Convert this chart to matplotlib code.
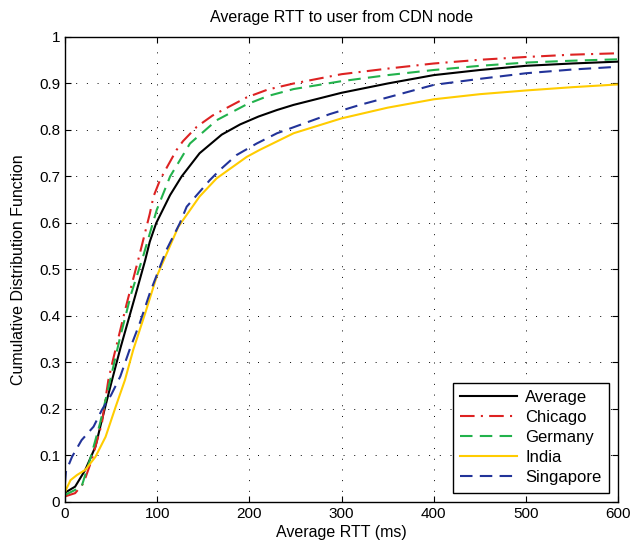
import matplotlib.pyplot as plt

plt.rcParams['font.family'] = ['Liberation Sans', 'DejaVu Sans']

# RTT (ms) vs CDF
avg_x = [0, 11, 22, 33, 40, 51, 60, 70, 78, 87, 92, 99, 114, 126.5, 146, 170, 190, 210, 230, 248, 300, 350, 400, 450, 500, 550, 600]
avg_y = [0.02, 0.033, 0.069, 0.119, 0.176, 0.262, 0.33, 0.40, 0.456, 0.52, 0.56, 0.60, 0.66, 0.70, 0.75, 0.790, 0.812, 0.829, 0.843, 0.854, 0.88, 0.90, 0.918, 0.929, 0.938, 0.943, 0.947]

chi_x = [0, 11, 20, 29, 40, 47, 52, 67, 80, 92, 96, 103, 107, 121, 128, 143, 160, 175, 197, 220, 248, 300, 350, 400, 450, 500, 550, 600]
chi_y = [0.012, 0.019, 0.04, 0.09, 0.169, 0.262, 0.305, 0.427, 0.525, 0.62, 0.657, 0.692, 0.707, 0.757, 0.776, 0.807, 0.831, 0.847, 0.87, 0.887, 0.90, 0.92, 0.932, 0.943, 0.951, 0.957, 0.962, 0.965]

ger_x = [0, 18, 27, 38, 49, 60, 72, 85, 99.5, 114, 135.6, 164.5, 197, 220, 248, 300, 350, 400, 450, 500, 550, 600]
ger_y = [0.015, 0.033, 0.09, 0.169, 0.262, 0.356, 0.449, 0.53, 0.628, 0.70, 0.771, 0.821, 0.855, 0.873, 0.888, 0.905, 0.918, 0.929, 0.938, 0.945, 0.949, 0.952]

ind_x = [0, 1, 6, 13, 22, 33, 44, 55, 65, 74, 87, 99.5, 112, 123, 146, 164.5, 197, 211, 248, 300, 350, 400, 450, 500, 550, 600]
ind_y = [0.02, 0.026, 0.047, 0.058, 0.069, 0.097, 0.14, 0.205, 0.262, 0.327, 0.406, 0.485, 0.542, 0.592, 0.657, 0.696, 0.742, 0.757, 0.793, 0.825, 0.848, 0.866, 0.877, 0.885, 0.892, 0.898]

sgp_x = [0, 1, 7.6, 18, 31, 40, 50, 60, 70, 81, 92, 110, 124.7, 132, 157, 168, 186, 208, 230, 287, 320, 350, 400, 450, 500, 550, 600]
sgp_y = [0.04, 0.065, 0.097, 0.133, 0.162, 0.198, 0.23, 0.27, 0.327, 0.384, 0.449, 0.542, 0.60, 0.635, 0.692, 0.714, 0.746, 0.771, 0.793, 0.834, 0.854, 0.87, 0.897, 0.91, 0.922, 0.93, 0.936]

fig = plt.figure(figsize=(6.34, 5.52), dpi=100)
ax = fig.add_axes([0.1025, 0.0906, 0.8725, 0.8424])

ax.plot(avg_x, avg_y, color='black', lw=1.5, label='Average')
ax.plot(chi_x, chi_y, color='#dd2222', lw=1.5, ls=(0, (7, 3, 1, 3)), label='Chicago')
ax.plot(ger_x, ger_y, color='#22b24c', lw=1.5, ls=(0, (6, 3.5)), label='Germany')
ax.plot(ind_x, ind_y, color='#ffcc00', lw=1.5, label='India')
ax.plot(sgp_x, sgp_y, color='#223399', lw=1.5, ls=(0, (6, 3.5)), label='Singapore')

ax.set_xlim(0, 600)
ax.set_ylim(0, 1)
ax.set_xticks(range(0, 601, 100))
ax.set_yticks([i / 10 for i in range(11)])
ax.set_yticklabels(['0', '0.1', '0.2', '0.3', '0.4', '0.5', '0.6', '0.7', '0.8', '0.9', '1'])
ax.tick_params(direction='in', top=True, right=True, labelsize=11, length=4)
ax.grid(True, color='black', ls=(0, (1, 10)), lw=0.7)
for s in ax.spines.values():
    s.set_linewidth(1.0)

ax.set_title('Average RTT to user from CDN node', fontsize=11.5, pad=11)
ax.set_xlabel('Average RTT (ms)', fontsize=11.5, labelpad=3)
ax.set_ylabel('Cumulative Distribution Function', fontsize=11.5, labelpad=9)

leg = ax.legend(loc='lower right', fontsize=12, fancybox=False, framealpha=1,
                edgecolor='black', borderaxespad=0.55, handlelength=3.4,
                labelspacing=0.3, borderpad=0.45, handletextpad=0.5)
leg.get_frame().set_linewidth(1.0)

fig.savefig('out.png', dpi=100)
